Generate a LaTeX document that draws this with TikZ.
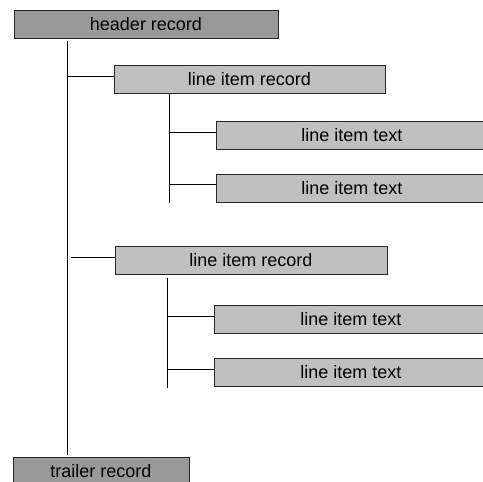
\documentclass[tikz,border=0pt]{standalone}
\usepackage{fontspec}
\setmainfont{Liberation Sans}
\usepackage{xcolor}
\usepackage{tikz}
\usetikzlibrary{positioning}

\definecolor{outerfill}{RGB}{153,153,153}
\definecolor{innerfill}{RGB}{192,192,192}
\definecolor{edgegray}{RGB}{40,40,40}

\tikzset{
  recbox/.style={draw=edgegray, line width=0.9pt, inner sep=0pt,
    minimum height=28pt, font=\fontsize{18}{20}\selectfont},
  outerbox/.style={recbox, fill=outerfill},
  innerbox/.style={recbox, fill=innerfill},
  link/.style={black, line width=0.9pt}
}

\begin{document}
\begin{tikzpicture}[x=1pt,y=-1pt]
\useasboundingbox (0,0) rectangle (483,482);

\node[outerbox, minimum width=264pt] (header) at (146,24) {header record};
\node[outerbox, minimum width=176pt] (trailer) at (101,471) {trailer record};

\node[innerbox, minimum width=271pt] (rec1) at (249.5,79) {line item record};
\node[innerbox, minimum width=272pt] (txt1) at (352,135) {line item text};
\node[innerbox, minimum width=272pt] (txt2) at (352,188) {line item text};

\node[innerbox, minimum width=272pt] (rec2) at (251,260) {line item record};
\node[innerbox, minimum width=274pt] (txt3) at (351,319.5) {line item text};
\node[innerbox, minimum width=274pt] (txt4) at (351,372.5) {line item text};

% main spine
\coordinate (spinetop) at (67,41);
\coordinate (spinebot) at (67,455);
\draw[link] (spinetop) -- (spinebot);
\coordinate (tap1) at (67,76);
\coordinate (tap2) at (71,257);
\draw[link] (tap1) -- ([yshift=3pt]rec1.west);
\draw[link] (tap2) -- ([yshift=3pt]rec2.west);

% first group
\coordinate (sub1top) at (169,94);
\coordinate (sub1bot) at (169,203);
\draw[link] (sub1top) -- (sub1bot);
\coordinate (tap3) at (169,132);
\coordinate (tap4) at (169,184);
\draw[link] (tap3) -- ([yshift=3pt]txt1.west);
\draw[link] (tap4) -- ([yshift=4pt]txt2.west);

% second group
\coordinate (sub2top) at (167,278);
\coordinate (sub2bot) at (167,388);
\draw[link] (sub2top) -- (sub2bot);
\coordinate (tap5) at (167,316);
\coordinate (tap6) at (167,369);
\draw[link] (tap5) -- ([yshift=3.5pt]txt3.west);
\draw[link] (tap6) -- ([yshift=3.5pt]txt4.west);
\end{tikzpicture}
\end{document}
